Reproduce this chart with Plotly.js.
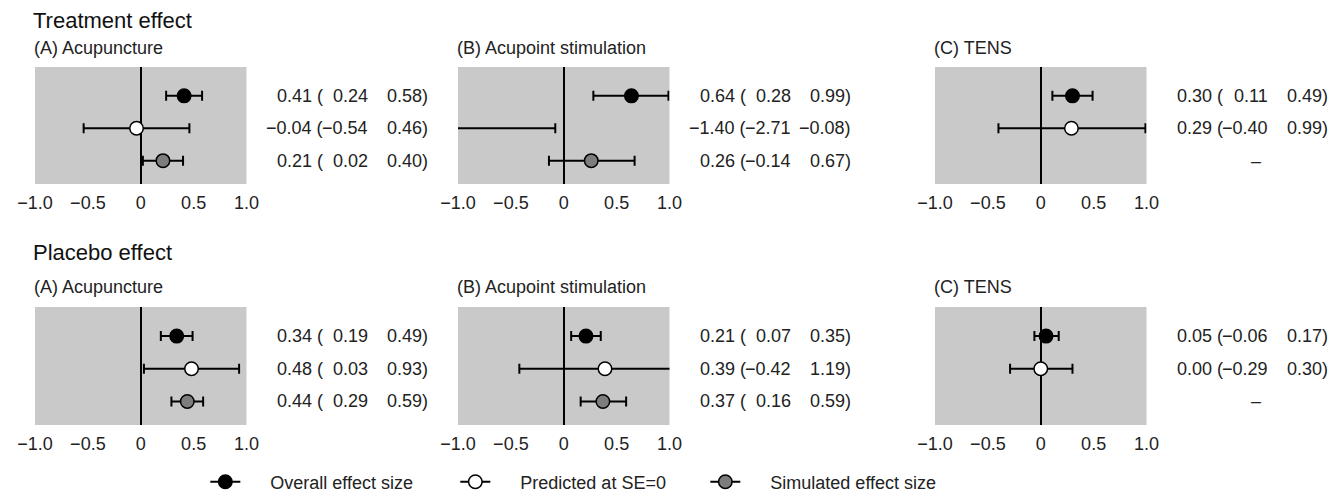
<!DOCTYPE html>
<html><head><meta charset="utf-8">
<script src="https://cdn.plot.ly/plotly-3.0.1.min.js"></script>
<style>html,body{margin:0;padding:0;background:#fff}#chart{width:1342px;height:494px}</style>
</head><body><div id="chart"></div>
<script>
// ---------------- data ----------------
const effects = ['Treatment effect', 'Placebo effect'];
const interventions = ['(A) Acupuncture', '(B) Acupoint stimulation', '(C) TENS'];
const seriesNames = ['Overall effect size', 'Predicted at SE=0', 'Simulated effect size'];
const tickValues = [-1, -0.5, 0, 0.5, 1];
const tickLabels = ['\u22121.0', '\u22120.5', '0', '0.5', '1.0'];
// panel order: Treatment (A, B, C), then Placebo (A, B, C)
const overallEst  = [0.41, 0.64, 0.30, 0.34, 0.21, 0.05];
const overallLow  = [0.24, 0.28, 0.11, 0.19, 0.07, -0.06];
const overallHigh = [0.58, 0.99, 0.49, 0.49, 0.35, 0.17];
const predEst     = [-0.04, -1.40, 0.29, 0.48, 0.39, 0.00];
const predLow     = [-0.54, -2.71, -0.40, 0.03, -0.42, -0.29];
const predHigh    = [0.46, -0.08, 0.99, 0.93, 1.19, 0.30];
const simEst      = [0.21, 0.26, null, 0.44, 0.37, null];
const simLow      = [0.02, -0.14, null, 0.29, 0.16, null];
const simHigh     = [0.40, 0.67, null, 0.59, 0.59, null];

// ---------------- styling ----------------
const FONT = 'Liberation Sans, Arial, sans-serif';
const TXT = '#222222';
const seriesData = [
  {est: overallEst, low: overallLow, high: overallHigh, fill: '#000000'},
  {est: predEst, low: predLow, high: predHigh, fill: '#ffffff'},
  {est: simEst, low: simLow, high: simHigh, fill: '#7d7d7d'}
];
const W = 1342, H = 494;
const colLeftPx = [35, 458, 935];
const plotWpx = 211.5;
const rowDomains = [[0.6275, 0.8644], [0.1397, 0.3785]];
const titleYpx = [20, 252];
const subYpx = [48, 287];
const legendGap = '\u00a0\u00a0\u00a0\u00a0\u00a0';

function fmt(v) { return v.toFixed(2).replace('-', '\u2212'); }

const traces = [];
const annotations = [];
const layout = {
  width: W, height: H,
  margin: {l: 0, r: 0, t: 0, b: 0, autoexpand: false},
  paper_bgcolor: '#ffffff',
  plot_bgcolor: '#c9c9c9',
  font: {family: FONT, size: 18, color: TXT},
  showlegend: true,
  legend: {
    orientation: 'h', x: 0.1530, xanchor: 'left', y: 0.0243, yanchor: 'middle',
    font: {family: FONT, size: 18, color: TXT},
    entrywidth: 205, entrywidthmode: 'pixels',
    bgcolor: 'rgba(0,0,0,0)', borderwidth: 0
  },
  annotations: annotations
};

for (let r = 0; r < 2; r++) {
  annotations.push({
    text: effects[r], xref: 'paper', yref: 'paper',
    x: 31 / W, y: 1 - titleYpx[r] / H, xanchor: 'left', yanchor: 'middle',
    showarrow: false, font: {family: FONT, size: 22, color: '#111'}
  });
  for (let c = 0; c < 3; c++) {
    const i = r * 3 + c;
    const n = i + 1;
    const xa = 'xaxis' + (n === 1 ? '' : n);
    const ya = 'yaxis' + (n === 1 ? '' : n);
    const xr = 'x' + (n === 1 ? '' : n);
    const yr = 'y' + (n === 1 ? '' : n);
    layout[xa] = {
      domain: [colLeftPx[c] / W, (colLeftPx[c] + plotWpx) / W],
      anchor: yr, range: [-1, 1], fixedrange: true,
      showgrid: false, showline: false,
      zeroline: true, zerolinecolor: '#000', zerolinewidth: 2,
      tickmode: 'array', tickvals: tickValues, ticktext: tickLabels,
      ticks: '', ticklabelstandoff: 6,
      tickfont: {family: FONT, size: 18, color: TXT}
    };
    layout[ya] = {
      domain: rowDomains[r], anchor: xr, range: [0.28, 3.89], fixedrange: true,
      showgrid: false, zeroline: false, showline: false, showticklabels: false, ticks: ''
    };
    annotations.push({
      text: interventions[c], xref: xr + ' domain', yref: 'paper',
      x: 0, xshift: -3, y: 1 - subYpx[r] / H, xanchor: 'left', yanchor: 'middle',
      showarrow: false, font: {family: FONT, size: 18, color: TXT}
    });
    seriesData.forEach((s, k) => {
      const rowY = 3 - k;
      const est = s.est[i];
      if (est === null) {
        annotations.push({
          text: '\u2013', xref: xr + ' domain', yref: yr, x: 1, xshift: 109,
          y: rowY, xanchor: 'center', yanchor: 'middle', showarrow: false,
          font: {family: FONT, size: 18, color: TXT}
        });
        return;
      }
      traces.push({
        type: 'scatter', mode: 'markers', xaxis: xr, yaxis: yr,
        x: [est], y: [rowY], showlegend: false, hoverinfo: 'skip',
        marker: {size: 13.5, color: s.fill, line: {color: '#000', width: 1.5}},
        error_x: {
          type: 'data', symmetric: false,
          array: [s.high[i] - est], arrayminus: [est - s.low[i]],
          color: '#000', thickness: 2, width: 5
        }
      });
      const cols = [
        {t: fmt(est) + ' (', sh: 78},
        {t: fmt(s.low[i]), sh: 123},
        {t: fmt(s.high[i]) + ')', sh: 183}
      ];
      cols.forEach(col => annotations.push({
        text: col.t, xref: xr + ' domain', yref: yr, x: 1, xshift: col.sh,
        y: rowY, xanchor: 'right', yanchor: 'middle', showarrow: false,
        font: {family: FONT, size: 18, color: TXT}
      }));
    });
  }
}

// legend entries (no data, icon only)
seriesData.forEach((s, k) => {
  traces.push({
    type: 'scatter', mode: 'lines+markers', x: [null], y: [null],
    xaxis: 'x', yaxis: 'y', name: legendGap + seriesNames[k], showlegend: true,
    line: {color: '#000', width: 2},
    marker: {size: 13.5, color: s.fill, line: {color: '#000', width: 1.5}}
  });
});

Plotly.newPlot('chart', traces, layout, {staticPlot: true, displayModeBar: false});
</script>
</body></html>
